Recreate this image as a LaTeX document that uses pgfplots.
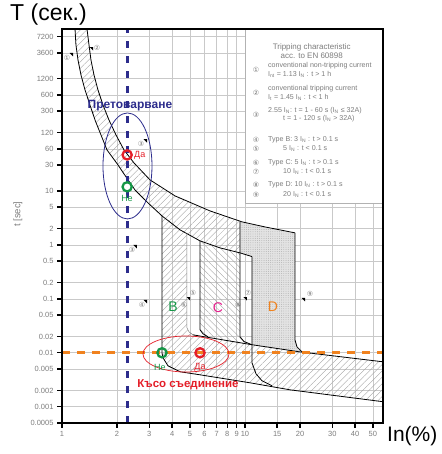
\documentclass[border=0pt]{standalone}
\usepackage{fontspec}
\setmainfont{Liberation Sans}
\newfontfamily\dejavu{DejaVu Sans}
\usepackage{pgfplots}
\pgfplotsset{compat=1.18}
\usetikzlibrary{patterns,patterns.meta}
\definecolor{navy}{RGB}{44,44,140}
\definecolor{orng}{RGB}{240,130,30}
\definecolor{rd}{RGB}{228,30,40}
\definecolor{grn}{RGB}{20,150,70}
\definecolor{mag}{RGB}{228,30,140}
\definecolor{lbl}{RGB}{125,125,125}
\newcommand{\tri}[2]{\fill (rel axis cs:#1,#2) -- ++(-3.5pt,0pt) -- ++(3.5pt,-3.5pt) -- cycle;}
\begin{document}
\begin{tikzpicture}
\begin{axis}[
 name=ax, scale only axis, width=321pt, height=394pt,
 xmode=log, ymode=log, xmin=1, xmax=56.8, ymin=0.0005, ymax=10000,
 xtick={1,2,3,4,5,6,7,8,9,10,15,20,30,40,50},
 xticklabels={1,2,3,4,5,6,7,8,9,10,15,20,30,40,50},
 ytick={0.0005,0.001,0.002,0.005,0.01,0.02,0.05,0.1,0.2,0.5,1,2,5,10,30,60,120,300,600,1200,3600,7200},
 yticklabels={0.0005,0.001,0.002,0.005,0.01,0.02,0.05,0.1,0.2,0.5,1,2,5,10,30,60,120,300,600,1200,3600,7200},
 minor xtick={}, minor ytick={}, minor tick length=0pt,
 grid=major, major grid style={draw=gray!42, line width=0.6pt},
 axis line style={line width=1.3pt},
 tick align=outside, tick pos=left,
 major tick length=5pt,
 every tick/.style={black, line width=1.4pt},
 ticklabel style={font=\fontsize{7.5}{8}\selectfont, text=lbl},
 clip=false,
]
% thermal band
\addplot[draw=none, pattern={Lines[angle=45,distance=4.5pt,line width=0.35pt]}, pattern color=gray!75, forget plot] coordinates {
(1.370,10000)(1.405,5058)(1.440,2666)(1.496,1406)(1.573,741)(1.675,391)(1.806,206)(1.973,109)(2.182,57.4)(2.474,33.0)(3.026,16.0)(4.145,8.08)(6.438,4.26)(9.630,2.67)
(9.391,0.711)(7.301,0.880)(5.677,1.186)(4.414,1.90)(3.520,3.44)(2.951,5.99)(2.506,10.4)(2.237,18.2)(2.023,30.3)(1.762,57.4)(1.633,109)(1.515,206)(1.422,391)(1.336,741)(1.270,1406)(1.223,2666)(1.192,5058)(1.178,10000)} -- cycle;
% B region
\addplot[draw=none, pattern={Lines[angle=45,distance=4.5pt,line width=0.35pt]}, pattern color=gray!75, forget plot] coordinates {
(3.520,3.44)(4.145,2.25)(4.821,1.61)(4.821,0.0290)(4.94,0.0245)(5.198,0.0215)(3.520,0.0235)} -- cycle;
% C region
\addplot[draw=none, pattern={Lines[angle=-45,distance=4.5pt,line width=0.35pt]}, pattern color=gray!75, forget plot] coordinates {
(5.677,1.186)(7.301,0.880)(9.391,0.711)(9.391,0.0198)(9.87,0.0162)(10.92,0.0141)(6.277,0.0198)(5.894,0.0225)(5.677,0.0267)} -- cycle;
% lower band
\addplot[draw=none, pattern={Lines[angle=45,distance=4.5pt,line width=0.35pt]}, pattern color=gray!75, forget plot] coordinates {
(3.520,0.0235)(5.198,0.0215)(10.92,0.0141)(19.98,0.0104)(56.8,0.00681)(56.8,0.00124)(17.62,0.00206)(10.65,0.00278)(5.677,0.00391)(4.414,0.00445)(3.795,0.00574)(3.564,0.00808)(3.520,0.0100)} -- cycle;
% D region
\addplot[draw=none, fill=gray!22, forget plot] coordinates {
(9.391,2.67)(12.86,2.15)(18.76,1.67)(18.76,0.0174)(19.24,0.0129)(20.49,0.0104)(10.92,0.0141)(10.92,0.607)(9.391,0.711)} -- cycle;
\addplot[draw=none, pattern={Dots[distance=2.2pt, radius=0.4pt]}, pattern color=gray!75, forget plot] coordinates {
(9.391,2.67)(12.86,2.15)(18.76,1.67)(18.76,0.0174)(19.24,0.0129)(20.49,0.0104)(10.92,0.0141)(10.92,0.607)(9.391,0.711)} -- cycle;
% outlines
\addplot[black, line width=0.8pt, forget plot] coordinates {(1.178,10000)(1.192,5058)(1.223,2666)(1.270,1406)(1.336,741)(1.422,391)(1.515,206)(1.633,109)(1.762,57.4)(2.023,30.3)(2.237,18.2)(2.506,10.4)(2.951,5.99)(3.520,3.44)(4.414,1.90)(5.677,1.186)(7.301,0.880)(9.391,0.711)(10.92,0.607)};
\addplot[black, line width=0.8pt, forget plot] coordinates {(1.370,10000)(1.405,5058)(1.440,2666)(1.496,1406)(1.573,741)(1.675,391)(1.806,206)(1.973,109)(2.182,57.4)(2.474,33.0)(3.026,16.0)(4.145,8.08)(6.438,4.26)(9.630,2.67)(12.86,2.15)(18.76,1.67)};
\addplot[black, line width=0.8pt, forget plot] coordinates {(3.520,3.44)(3.520,0.0100)(3.564,0.00808)(3.795,0.00574)(4.414,0.00445)(5.677,0.00391)(10.65,0.00278)(17.62,0.00206)(56.8,0.00124)};
\addplot[gray, line width=0.5pt, forget plot] coordinates {(4.821,1.61)(4.821,0.0290)(4.94,0.0245)(5.198,0.0215)};
\addplot[black, line width=0.8pt, forget plot] coordinates {(5.677,1.186)(5.677,0.0267)(5.894,0.0225)(6.277,0.0198)};
\addplot[black, line width=0.8pt, forget plot] coordinates {(9.391,2.67)(9.391,0.0198)(9.87,0.0162)(10.92,0.0141)};
\addplot[black, line width=0.8pt, forget plot] coordinates {(10.92,0.607)(10.92,0.00653)(11.49,0.00408)(12.39,0.00303)(14.05,0.00245)};
\addplot[black, line width=0.8pt, forget plot] coordinates {(18.76,1.67)(18.76,0.0174)(19.24,0.0129)(20.49,0.0104)};
\addplot[black, line width=0.8pt, forget plot] coordinates {(5.198,0.0215)(10.92,0.0141)(19.98,0.0104)(56.8,0.00681)};
% legend box
\fill[white] (rel axis cs:0.5701,0.5584) rectangle (rel axis cs:1,1);
\draw[gray!60, line width=0.5pt] (rel axis cs:0.5701,1) -- (rel axis cs:0.5701,0.5584) -- (rel axis cs:1,0.5584);
\begin{scope}[every node/.style={font=\fontsize{7.1}{7}\selectfont, text=lbl, inner sep=0pt}]
\node[font=\fontsize{8}{8}\selectfont] at (rel axis cs:0.778,0.9543) {Tripping characteristic};
\node[font=\fontsize{8}{8}\selectfont] at (rel axis cs:0.778,0.9315) {acc. to EN 60898};
\node at (rel axis cs:0.6044,0.8959) {\dejavu ①};
\node[anchor=west] at (rel axis cs:0.6417,0.9061) {conventional non-tripping current};
\node[anchor=west] at (rel axis cs:0.6417,0.8858) {I\textsubscript{nt} = 1.13 I\textsubscript{N} : t > 1 h};
\node at (rel axis cs:0.6044,0.8376) {\dejavu ②};
\node[anchor=west] at (rel axis cs:0.6417,0.8477) {conventional tripping current};
\node[anchor=west] at (rel axis cs:0.6417,0.8274) {I\textsubscript{t} = 1.45 I\textsubscript{N} : t < 1 h};
\node at (rel axis cs:0.6044,0.7817) {\dejavu ③};
\node[anchor=west] at (rel axis cs:0.6417,0.7919) {2.55 I\textsubscript{N}: t = 1 - 60 s (I\textsubscript{N} ≤ 32A)};
\node[anchor=west] at (rel axis cs:0.6885,0.7716) {t = 1 - 120 s (I\textsubscript{N} > 32A)};
\node at (rel axis cs:0.6044,0.7183) {\dejavu ④};
\node[anchor=west] at (rel axis cs:0.6417,0.7183) {Type B: 3 I\textsubscript{N} : t > 0.1 s};
\node at (rel axis cs:0.6044,0.6954) {\dejavu ⑤};
\node[anchor=west] at (rel axis cs:0.6885,0.6954) {5 I\textsubscript{N} : t < 0.1 s};
\node at (rel axis cs:0.6044,0.6599) {\dejavu ⑥};
\node[anchor=west] at (rel axis cs:0.6417,0.6599) {Type C: 5 I\textsubscript{N} : t > 0.1 s};
\node at (rel axis cs:0.6044,0.6371) {\dejavu ⑦};
\node[anchor=west] at (rel axis cs:0.6885,0.6371) {10 I\textsubscript{N} : t < 0.1 s};
\node at (rel axis cs:0.6044,0.6041) {\dejavu ⑧};
\node[anchor=west] at (rel axis cs:0.6417,0.6041) {Type D: 10 I\textsubscript{N} : t > 0.1 s};
\node at (rel axis cs:0.6044,0.5787) {\dejavu ⑨};
\node[anchor=west] at (rel axis cs:0.6885,0.5787) {20 I\textsubscript{N} : t < 0.1 s};
\end{scope}
% chart markers
\begin{scope}[every node/.style={font=\dejavu\fontsize{7}{8}\selectfont, text=gray, inner sep=0pt}]
\node at (rel axis cs:0.0156,0.9264) {①};
\node at (rel axis cs:0.1090,0.9518) {②};
\node at (rel axis cs:0.2461,0.7081) {③};
\node at (rel axis cs:0.2181,0.4391) {③};
\node at (rel axis cs:0.2492,0.2995) {④};
\node at (rel axis cs:0.4081,0.3299) {⑤};
\node at (rel axis cs:0.3801,0.2995) {⑥};
\node at (rel axis cs:0.5794,0.3299) {⑦};
\node at (rel axis cs:0.5483,0.2995) {⑧};
\node at (rel axis cs:0.7726,0.3274) {⑨};
\end{scope}
\tri{0.0343}{0.9391}
\tri{0.0966}{0.9543}
\tri{0.2648}{0.7208}
\tri{0.2336}{0.4518}
\tri{0.2648}{0.3122}
\tri{0.3988}{0.3198}
\tri{0.5763}{0.3198}
\tri{0.7570}{0.3173}
% dashed reference lines
\addplot[navy, line width=2.8pt, dash pattern=on 7pt off 8pt, forget plot] coordinates {(2.27,0.0005)(2.27,10000)};
\addplot[orng, line width=2.8pt, dash pattern=on 8pt off 7pt, forget plot] coordinates {(1,0.01)(56.8,0.01)};
% ellipses
\draw[navy, line width=0.8pt] (axis cs:2.28,29.0) ellipse [x radius=24.5pt, y radius=53pt];
\draw[rd, line width=0.7pt] (axis cs:4.76,0.0095) ellipse [x radius=43pt, y radius=18pt];
% check points
\addplot[only marks, mark=o, mark size=4.6pt, mark options={draw=rd, line width=2.3pt}, forget plot] coordinates {(2.27,46.4)(5.68,0.01)};
\addplot[only marks, mark=o, mark size=4.6pt, mark options={draw=grn, line width=2.3pt}, forget plot] coordinates {(2.27,11.9)(3.52,0.01)};
% annotations
\node[font=\bfseries\fontsize{12}{13}\selectfont, text=navy, inner sep=0pt] at (rel axis cs:0.2118,0.8046) {Претоварване};
\node[font=\bfseries\fontsize{11.5}{13}\selectfont, text=rd, inner sep=0pt] at (rel axis cs:0.3925,0.0964) {Късо съединение};
\node[font=\fontsize{9}{10}\selectfont, text=rd, anchor=west, inner sep=0pt] at (rel axis cs:0.2243,0.6802) {Да};
\node[font=\fontsize{9}{10}\selectfont, text=grn, inner sep=0pt] at (rel axis cs:0.2025,0.5711) {Не};
\node[font=\fontsize{9}{10}\selectfont, text=grn, inner sep=0pt] at (rel axis cs:0.3053,0.1421) {Не};
\node[font=\fontsize{9}{10}\selectfont, text=rd, inner sep=0pt] at (rel axis cs:0.4299,0.1421) {Да};
\node[font=\fontsize{14}{15}\selectfont, text=grn, inner sep=0pt] at (rel axis cs:0.3458,0.2945) {B};
\node[font=\fontsize{14}{15}\selectfont, text=mag, inner sep=0pt] at (rel axis cs:0.4860,0.2919) {C};
\node[font=\fontsize{14}{15}\selectfont, text=orng, inner sep=0pt] at (rel axis cs:0.6573,0.2945) {D};
% titles
\node[font=\fontsize{23}{24}\selectfont, anchor=base west, inner sep=0pt] at (rel axis cs:-0.1620,1.0228) {T (сек.)};
\node[font=\fontsize{21}{24}\selectfont, anchor=base west, inner sep=0pt] at (rel axis cs:1.0125,-0.0482) {In(\%)};
\node[font=\fontsize{9.5}{10}\selectfont, text=lbl, rotate=90, inner sep=0pt] at (rel axis cs:-0.137,0.530) {t [sec]};
% frame redraw
\draw[line width=1.3pt] (rel axis cs:0,0) rectangle (rel axis cs:1,1);
\path (rel axis cs:-0.19315,-0.07868) rectangle (rel axis cs:1.18069,1.07360);
\end{axis}
\end{tikzpicture}
\end{document}
